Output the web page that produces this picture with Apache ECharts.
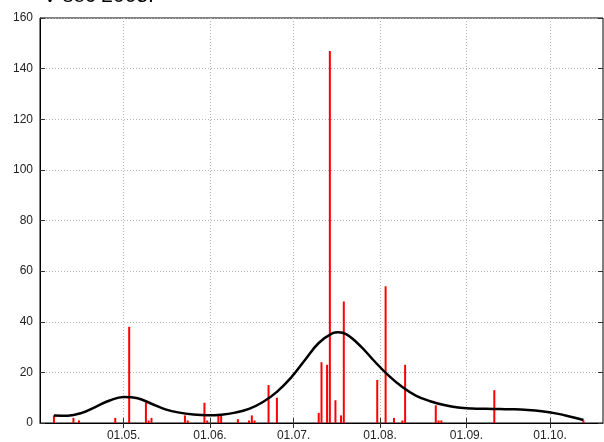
<!DOCTYPE html>
<html>
<head>
<meta charset="utf-8">
<script src="https://cdn.jsdelivr.net/npm/echarts@6/dist/echarts.min.js"></script>
<style>html,body{margin:0;padding:0;background:#fff}#c{width:604px;height:442px}</style>
</head>
<body>
<div id="c"></div>
<script>
// Days are counted from 01.04.2005 (day 0)
const titleText = 'V-sec 2005.';
const yTicks = [0, 20, 40, 60, 80, 100, 120, 140, 160];
const monthTickLabels = ['01.05.', '01.06.', '01.07.', '01.08.', '01.09.', '01.10.'];
const barDays   = [5, 12, 14, 27, 32, 38, 39, 40, 52, 53, 59, 60, 64, 65, 71, 75, 76, 77, 82, 85, 100, 101, 103, 104, 106, 108, 109, 121, 124, 127, 130, 131, 142, 143, 144, 163, 195];
const barValues = [3, 2, 1, 2, 38, 8, 1, 2, 3, 1, 8, 1, 3, 3, 1.5, 1, 3, 1, 15, 10, 4, 24, 23, 147, 9, 3, 48, 17, 54, 2, 1, 23, 7, 1, 1, 13, 1];
const curveDays   = [5, 10, 15, 20, 25, 30, 35, 40, 45, 50, 55, 60, 65, 70, 75, 80, 85, 90, 95, 100, 105, 107, 110, 115, 120, 125, 130, 135, 140, 145, 150, 155, 160, 165, 170, 175, 180, 185, 190, 195];
const curveValues = [3.0, 2.9, 4.0, 6.4, 8.9, 10.3, 9.8, 7.6, 5.4, 4.1, 3.4, 3.1, 3.3, 4.1, 5.6, 8.3, 12.3, 17.8, 24.8, 31.6, 35.5, 35.9, 35.0, 30.4, 24.4, 18.8, 14.2, 10.7, 8.6, 7.1, 6.1, 5.7, 5.6, 5.5, 5.4, 5.1, 4.6, 3.8, 2.6, 1.2];

const nDays = 203;
const categories = [];
const monthStart = [];
for (let i = 0; i < nDays; i++) {
  const d = new Date(2005, 3, 1 + i);
  const s = String(d.getDate()).padStart(2, '0') + '.' + String(d.getMonth() + 1).padStart(2, '0') + '.';
  categories.push(s);
  monthStart.push(d.getDate() === 1 && monthTickLabels.indexOf(s) >= 0);
}
const barData = new Array(nDays).fill(null);
barDays.forEach((d, i) => { barData[d] = barValues[i]; });
const curveData = curveDays.map((d, i) => [d, curveValues[i]]);
const isTick = (idx) => monthStart[idx];

const font = 'Liberation Sans, Arial, sans-serif';
const chart = echarts.init(document.getElementById('c'));
chart.setOption({
  animation: false,
  backgroundColor: '#fff',
  title: {
    text: titleText, left: 38, top: -19,
    textStyle: { fontFamily: font, fontSize: 21, fontWeight: 'normal', color: '#000' }
  },
  grid: { left: 40, right: 1, top: 18, bottom: 18, show: true, borderColor: '#000', borderWidth: 1, backgroundColor: 'transparent' },
  xAxis: [
    {
      type: 'category', data: categories, boundaryGap: false, position: 'bottom',
      axisLine: { show: true, lineStyle: { color: '#000', width: 1 } },
      axisTick: { show: true, inside: true, length: 5, interval: isTick, lineStyle: { color: '#333' } },
      axisLabel: { show: true, interval: isTick, margin: 7, fontFamily: font, fontSize: 12, color: '#222' },
      splitLine: { show: true, interval: isTick, lineStyle: { color: '#b5b5b5', type: [1, 2], width: 1 } }
    },
    {
      type: 'category', data: categories, boundaryGap: false, position: 'top',
      axisLine: { show: false },
      axisTick: { show: true, inside: true, length: 5, interval: isTick, lineStyle: { color: '#333' } },
      axisLabel: { show: false },
      splitLine: { show: false }
    },
    { type: 'value', min: 0, max: nDays - 1, show: false }
  ],
  yAxis: [
    {
      type: 'value', min: 0, max: 160, interval: 20, position: 'left',
      axisLine: { show: true, lineStyle: { color: '#000' } },
      axisTick: { show: true, inside: true, length: 5, lineStyle: { color: '#333' } },
      axisLabel: { margin: 7, fontFamily: font, fontSize: 12, color: '#222',
        formatter: (v) => yTicks.indexOf(v) >= 0 ? String(v) : '' },
      splitLine: { show: true, lineStyle: { color: '#b5b5b5', type: [1, 2], width: 1 } }
    },
    {
      type: 'value', min: 0, max: 160, interval: 20, position: 'right',
      axisLine: { show: false },
      axisTick: { show: true, inside: true, length: 5, lineStyle: { color: '#333' } },
      axisLabel: { show: false },
      splitLine: { show: false }
    }
  ],
  series: [
    {
      type: 'bar', xAxisIndex: 0, yAxisIndex: 0, data: barData, barWidth: 2,
      itemStyle: { color: '#ff0000' }, silent: true
    },
    {
      type: 'line', xAxisIndex: 2, yAxisIndex: 0, data: curveData, smooth: 0.4,
      showSymbol: false, lineStyle: { color: '#000', width: 2.5 }, silent: true, z: 5
    }
  ]
});
</script>
</body>
</html>
